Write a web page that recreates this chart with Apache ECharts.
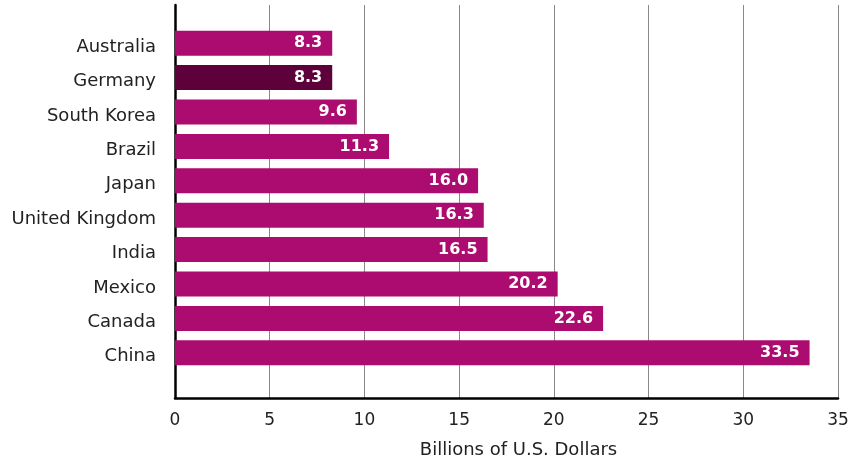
<!DOCTYPE html>
<html>
<head>
<meta charset="utf-8">
<script src="https://cdn.jsdelivr.net/npm/echarts@6/dist/echarts.min.js"></script>
<style>
    html, body { margin: 0; padding: 0; background: #fff; }
    #chart { width: 853px; height: 463px; }
</style>
</head>
<body>
<div id="chart"></div>
<script>
// data
var countries = ['Australia', 'Germany', 'South Korea', 'Brazil', 'Japan', 'United Kingdom', 'India', 'Mexico', 'Canada', 'China'];
var values = [8.3, 8.3, 9.6, 11.3, 16.0, 16.3, 16.5, 20.2, 22.6, 33.5];
var highlight = 'Germany';
var xTicks = [0, 5, 10, 15, 20, 25, 30, 35];
var axisTitle = 'Billions of U.S. Dollars';

var FONT = '"DejaVu Sans", "Noto Sans", sans-serif';
var MAIN = '#AC0B6F';
var DARK = '#5E003A';

var chart = echarts.init(document.getElementById('chart'));

var barData = values.map(function (v, i) {
    return {
        value: v,
        itemStyle: { color: countries[i] === highlight ? DARK : MAIN }
    };
});

var option = {
    animation: false,
    grid: [
        // frame grid: axis lines + gridlines
        { left: 175, right: 15, top: 5, bottom: 65, outerBoundsMode: 'none', containLabel: false },
        // bar grid
        { left: 175, right: 15, top: 26, bottom: 93, outerBoundsMode: 'none', containLabel: false }
    ],
    xAxis: [
        {
            gridIndex: 0,
            type: 'value',
            min: xTicks[0],
            max: xTicks[xTicks.length - 1],
            interval: 5,
            axisLine: { show: true, lineStyle: { color: '#000', width: 2.5 } },
            axisTick: { show: false },
            axisLabel: {
                margin: 14,
                fontFamily: FONT,
                fontSize: 17,
                color: '#222'
            },
            splitLine: { show: true, lineStyle: { color: '#888', width: 1 } },
            name: axisTitle,
            nameLocation: 'middle',
            nameGap: 43,
            nameTextStyle: { fontFamily: FONT, fontSize: 18, color: '#222', padding: [0, 0, 0, 24] }
        },
        {
            gridIndex: 1,
            type: 'value',
            min: xTicks[0],
            max: xTicks[xTicks.length - 1],
            show: false
        }
    ],
    yAxis: [
        {
            gridIndex: 0,
            type: 'value',
            axisLine: { show: true, lineStyle: { color: '#000', width: 2.5 } },
            axisTick: { show: false },
            axisLabel: { show: false },
            splitLine: { show: false }
        },
        {
            gridIndex: 1,
            type: 'category',
            inverse: true,
            data: countries,
            axisLine: { show: false },
            axisTick: { show: false },
            axisLabel: {
                margin: 19,
                formatter: function (v) {
                    return '{c|' + v + '}';
                },
                rich: {
                    c: {
                        padding: [8, 0, 0, 0],
                        fontFamily: FONT,
                        fontSize: 18,
                        color: '#222'
                    }
                }
            }
        }
    ],
    series: [
        {
            type: 'bar',
            xAxisIndex: 1,
            yAxisIndex: 1,
            barWidth: 25,
            data: barData,
            label: {
                show: true,
                position: 'insideRight',
                distance: 10,
                color: '#fff',
                fontFamily: FONT,
                fontSize: 16,
                fontWeight: 'bold',
                formatter: function (p) {
                    return p.value.toFixed(1);
                }
            }
        }
    ]
};

chart.setOption(option);
</script>
</body>
</html>
